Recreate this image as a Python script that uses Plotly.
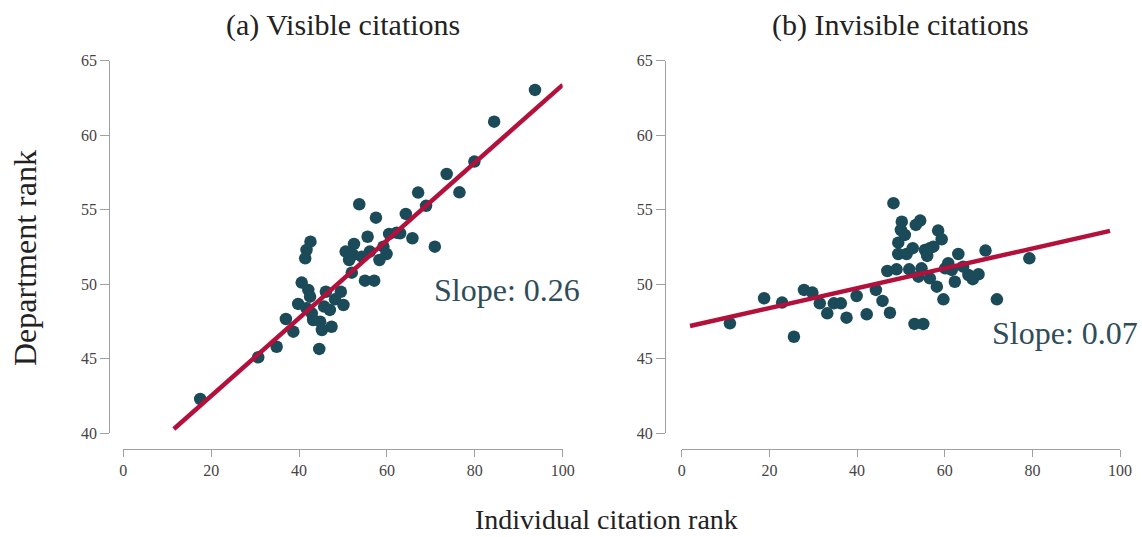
import plotly.graph_objects as go

# ---- data: (a) visible citations ----
vis_x = [93.7, 84.4, 79.9, 73.6, 76.5, 67.1, 68.9, 53.7, 57.5, 64.3, 70.9, 65.8, 63.0, 60.5,
         62.2, 55.6, 59.2, 59.9, 58.3, 56.1, 52.5, 50.6, 52.3, 51.4, 54.3, 52.0, 55.0, 57.1,
         42.6, 41.7, 41.4, 40.6, 42.1, 42.5, 39.8, 41.7, 46.1, 49.5, 48.2, 50.1, 45.7, 47.0,
         37.0, 38.7, 43.2, 44.8, 45.2, 47.4, 44.6, 34.9, 30.7, 17.5, 42.9]
vis_y = [63.04, 60.91, 58.23, 57.40, 56.17, 56.15, 55.26, 55.37, 54.47, 54.72, 52.52, 53.09, 53.42, 53.38,
         53.46, 53.19, 52.52, 52.03, 51.63, 52.19, 52.70, 52.19, 51.97, 51.63, 51.85, 50.78, 50.24, 50.24,
         52.86, 52.30, 51.74, 50.11, 49.62, 49.17, 48.68, 48.39, 49.50, 49.50, 48.99, 48.61, 48.50, 48.28,
         47.67, 46.82, 47.60, 47.49, 46.93, 47.15, 45.66, 45.81, 45.10, 42.30, 48.05]
vis_fit_x = [11.5, 100.0]
vis_fit_y = [40.29, 63.38]

# ---- data: (b) invisible citations ----
inv_x = [11.0, 18.8, 22.9, 25.6, 27.9, 29.8, 31.5, 33.2, 34.7, 36.3, 37.6, 39.9, 42.2, 44.3,
         45.8, 47.5, 46.9, 48.3, 49.0, 49.4, 49.4, 50.0, 50.2, 50.9, 51.3, 51.9, 52.7, 53.4,
         54.4, 54.0, 54.7, 53.1, 55.1, 55.5, 56.0, 56.6, 57.4, 58.2, 58.5, 59.3, 59.7, 60.1,
         60.8, 61.6, 62.3, 63.1, 64.2, 65.4, 66.4, 67.7, 69.3, 71.9, 79.3, 56.6]
inv_y = [47.38, 49.06, 48.77, 46.48, 49.62, 49.44, 48.72, 48.05, 48.72, 48.72, 47.76, 49.21, 47.99, 49.62,
         48.88, 48.09, 50.89, 55.44, 51.00, 52.03, 52.79, 53.64, 54.20, 53.31, 52.03, 51.00, 52.42, 53.98,
         54.27, 50.51, 51.07, 47.34, 47.34, 52.30, 51.90, 50.40, 52.52, 49.84, 53.60, 53.02, 48.99, 51.07,
         51.41, 50.96, 50.17, 52.03, 51.18, 50.62, 50.34, 50.67, 52.26, 48.99, 51.74, 52.42]
inv_fit_x = [1.9, 97.7]
inv_fit_y = [47.20, 53.58]

titles = ["(a) Visible citations", "(b) Invisible citations"]
slope_labels = ["Slope: 0.26", "Slope: 0.07"]
x_ticks = [0, 20, 40, 60, 80, 100]
y_ticks = [40, 45, 50, 55, 60, 65]

DOT = "#1b4a59"
RED = "#b3103b"
TXT = "#2f4d59"
FONT = "Liberation Serif"
W, H = 1142, 537

fig = go.Figure()
fig.add_trace(go.Scatter(x=vis_x, y=vis_y, mode="markers", xaxis="x", yaxis="y",
                         marker=dict(color=DOT, size=12.5, line=dict(width=0)), showlegend=False))
fig.add_trace(go.Scatter(x=vis_fit_x, y=vis_fit_y, mode="lines", xaxis="x", yaxis="y",
                         line=dict(color=RED, width=4.5), showlegend=False))
fig.add_trace(go.Scatter(x=inv_x, y=inv_y, mode="markers", xaxis="x2", yaxis="y2",
                         marker=dict(color=DOT, size=12.5, line=dict(width=0)), showlegend=False))
fig.add_trace(go.Scatter(x=inv_fit_x, y=inv_fit_y, mode="lines", xaxis="x2", yaxis="y2",
                         line=dict(color=RED, width=4.5), showlegend=False))

ydom = [1 - 433.3 / H, 1 - 60.7 / H]
xdom1 = [123.3 / W, 562.7 / W]
xdom2 = [681.7 / W, 1120.1 / W]
xpos = 1 - 448.5 / H

axis_common = dict(showgrid=False, zeroline=False, showline=True, linecolor="#a0a0a0",
                   linewidth=1.3, ticks="outside", tickcolor="#a0a0a0", tickwidth=1.2,
                   automargin=False,
                   tickfont=dict(family=FONT, size=16, color="#444444"))

fig.update_layout(
    width=W, height=H, margin=dict(l=0, r=0, t=0, b=0, pad=0, autoexpand=False),
    paper_bgcolor="white", plot_bgcolor="white",
    xaxis=dict(domain=xdom1, range=[0, 100], tickvals=x_ticks, anchor="free", position=xpos,
               ticklen=7, **axis_common),
    yaxis=dict(domain=ydom, range=[40, 65], tickvals=y_ticks, anchor="free",
               position=109.3 / W, ticklen=9, **axis_common),
    xaxis2=dict(domain=xdom2, range=[0, 100], tickvals=x_ticks, anchor="free", position=xpos,
                ticklen=7, **axis_common),
    yaxis2=dict(domain=ydom, range=[40, 65], tickvals=y_ticks, anchor="free",
                position=665 / W, ticklen=9, **axis_common),
)

ann = [
    dict(text=titles[0], x=(xdom1[0] + xdom1[1]) / 2, y=1 - 25 / H, xref="paper", yref="paper",
         showarrow=False, font=dict(family=FONT, size=30, color="#222222"), xanchor="center", yanchor="middle"),
    dict(text=titles[1], x=(xdom2[0] + xdom2[1]) / 2, y=1 - 25 / H, xref="paper", yref="paper",
         showarrow=False, font=dict(family=FONT, size=30, color="#222222"), xanchor="center", yanchor="middle"),
    dict(text="Department rank", x=25 / W, y=1 - 258 / H, xref="paper", yref="paper", textangle=-90,
         showarrow=False, font=dict(family=FONT, size=32, color="#222222"), xanchor="center", yanchor="middle"),
    dict(text="Individual citation rank", x=606 / W, y=0, xref="paper", yref="paper",
         showarrow=False, font=dict(family=FONT, size=28, color="#222222"), xanchor="center", yanchor="bottom"),
    dict(text=slope_labels[0], x=70.3, y=49.6, xref="x", yref="y", showarrow=False,
         font=dict(family=FONT, size=32, color=TXT), xanchor="left", yanchor="middle"),
    dict(text=slope_labels[1], x=70.3, y=46.7, xref="x2", yref="y2", showarrow=False,
         font=dict(family=FONT, size=32, color=TXT), xanchor="left", yanchor="middle"),
]
fig.update_layout(annotations=ann)

fig.write_html("out.html", config={"displayModeBar": False},
               post_script="document.body.style.margin='0';document.body.style.overflow='hidden';")
